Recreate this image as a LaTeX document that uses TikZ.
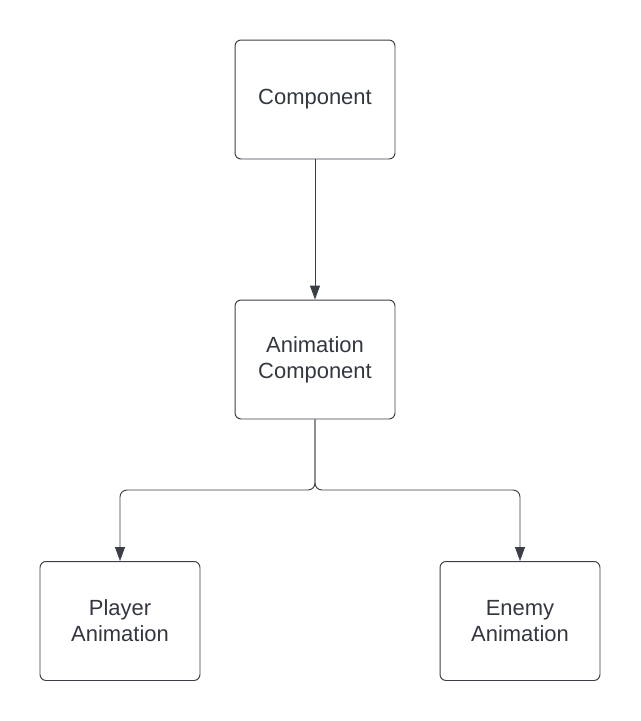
\documentclass[tikz,border=0pt]{standalone}
\usepackage{fontspec}
\setmainfont{Liberation Sans}
\usetikzlibrary{arrows.meta}
\definecolor{edgegray}{HTML}{3A3F47}
\definecolor{textgray}{HTML}{333840}

\begin{document}
\begin{tikzpicture}[x=0.02cm,y=-0.02cm,
	  >={Triangle[width=0.2cm,length=0.28cm]},
	  block/.style={draw=edgegray,line width=0.55pt,rounded corners=0.12cm,
	    minimum width=3.2cm,minimum height=2.38cm,align=center,
	    text=textgray,font=\fontsize{12.5}{14.7}\selectfont},
	  link/.style={draw=edgegray,line width=0.55pt,rounded corners=0.14cm,->}]
	  \useasboundingbox (0,0) rectangle (640,721);
	  \node[block] (comp) at (315,99.5) {Component};
	  \node[block] (anim) at (315,359.5) {Animation\\Component};
	  \node[block] (player) at (120,621) {Player\\Animation};
	  \node[block] (enemy) at (520,621) {Enemy\\Animation};
	  \coordinate (split) at (315,490);
	  \draw[link] (comp) -- (anim);
	  \draw[link] (anim) -- (split) -| (player);
	  \draw[link] (anim) -- (split) -| (enemy);
	\end{tikzpicture}
\end{document}
